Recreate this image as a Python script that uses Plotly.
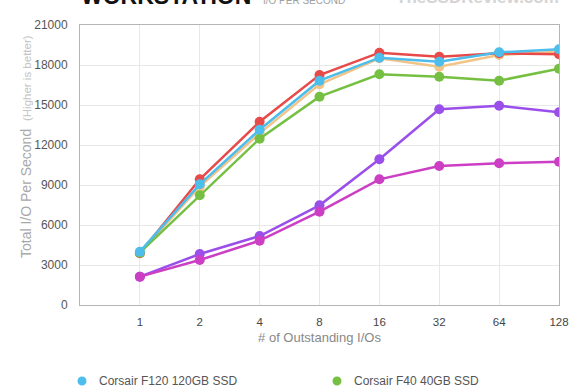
import plotly.graph_objects as go

categories = ["1", "2", "4", "8", "16", "32", "64", "128"]

f120_values = [4000, 9050, 13150, 16825, 18550, 18250, 18950, 19175]
f40_values = [3925, 8225, 12475, 15625, 17300, 17125, 16825, 17725]
red_values = [3875, 9425, 13750, 17250, 18925, 18625, 18875, 18800]
orange_values = [3900, 8875, 12875, 16550, 18500, 17875, 18750, 19000]
purple_values = [2125, 3825, 5175, 7475, 10925, 14675, 14950, 14450]
magenta_values = [2125, 3375, 4825, 7000, 9425, 10425, 10625, 10750]

y_ticks = [0, 3000, 6000, 9000, 12000, 15000, 18000, 21000]

FONT = "Liberation Sans, Arial, sans-serif"

# drawn bottom to top
series = [
    ("Drive E", purple_values, "#9B4FEA"),
    ("Drive F", magenta_values, "#CC3FC4"),
    ("Drive D", orange_values, "#F2C487"),
    ("Drive C", red_values, "#E84A4A"),
    ("Corsair F40 40GB SSD", f40_values, "#75C043"),
    ("Corsair F120 120GB SSD", f120_values, "#4DBDEB"),
]

fig = go.Figure()
for name, vals, color in series:
    fig.add_trace(go.Scatter(
        x=categories, y=vals, name=name, mode="lines+markers",
        line=dict(color=color, width=2.5),
        marker=dict(color=color, size=10),
        showlegend=False,
    ))

fig.update_layout(
    width=580, height=390,
    margin=dict(l=80, r=21, t=25, b=85),
    paper_bgcolor="white", plot_bgcolor="white",
    font=dict(family=FONT, color="#555"),
)
fig.update_xaxes(
    type="category", range=[-1, 7],
    showgrid=True, gridcolor="#e8e8e8", gridwidth=1,
    showline=True, linecolor="#b5b5b5", linewidth=1, mirror=True,
    ticks="", tickfont=dict(size=11.5, color="#444"),
    ticklabelstandoff=6,
    title=dict(text="# of Outstanding I/Os", font=dict(size=13, color="#888"), standoff=6),
    zeroline=False,
)
fig.update_yaxes(
    range=[0, 21000], tickvals=y_ticks, ticktext=[str(v) for v in y_ticks],
    showgrid=True, gridcolor="#e8e8e8", gridwidth=1,
    showline=True, linecolor="#b5b5b5", linewidth=1, mirror=True,
    ticks="", tickfont=dict(size=12, color="#555"),
    ticklabelstandoff=9, zeroline=False,
)

def px_x(px):
    return (px - 80) / 479

def px_y(py):
    return (305 - py) / 280

# y axis title
fig.add_annotation(
    xref="paper", yref="paper", x=px_x(26), y=px_y(147),
    text="Total I/O Per Second  <span style='font-size:11.5px;color:#c4c4c4'>(Higher is better)</span>",
    textangle=-90, showarrow=False, xanchor="center", yanchor="middle",
    font=dict(size=14, color="#a8a8a8", family=FONT),
)

# title (cut off at top)
fig.add_annotation(
    xref="paper", yref="paper", x=px_x(79), y=px_y(11),
    text="<b>WORKSTATION</b>", showarrow=False, xanchor="left", yanchor="bottom",
    font=dict(size=23, color="#111", family=FONT),
)
fig.add_annotation(
    xref="paper", yref="paper", x=px_x(261), y=px_y(8),
    text="I/O PER SECOND", showarrow=False, xanchor="left", yanchor="bottom",
    font=dict(size=10, color="#a0a0a0", family=FONT),
)
fig.add_annotation(
    xref="paper", yref="paper", x=px_x(561), y=px_y(9),
    text="<b>TheSSDReview.com</b>", showarrow=False, xanchor="right", yanchor="bottom",
    font=dict(size=17, color="#d4d4d4", family=FONT),
)

# legend (first row visible)
legend_items = [("Corsair F120 120GB SSD", "#4DBDEB", 82), ("Corsair F40 40GB SSD", "#75C043", 337)]
for label, color, px in legend_items:
    xp = px_x(px)
    yp = px_y(381)
    fig.add_shape(type="circle", xref="paper", yref="paper",
                  xsizemode="pixel", ysizemode="pixel", xanchor=xp, yanchor=yp,
                  x0=-4.5, x1=4.5, y0=-4.5, y1=4.5,
                  fillcolor=color, line=dict(width=0))
    fig.add_annotation(xref="paper", yref="paper", x=px_x(px + 15), y=yp,
                       text=label, showarrow=False, xanchor="left", yanchor="middle",
                       font=dict(size=12, color="#555", family=FONT))

fig.write_html("out.html", post_script="document.body.style.margin='0';",
               config={"displayModeBar": False})
